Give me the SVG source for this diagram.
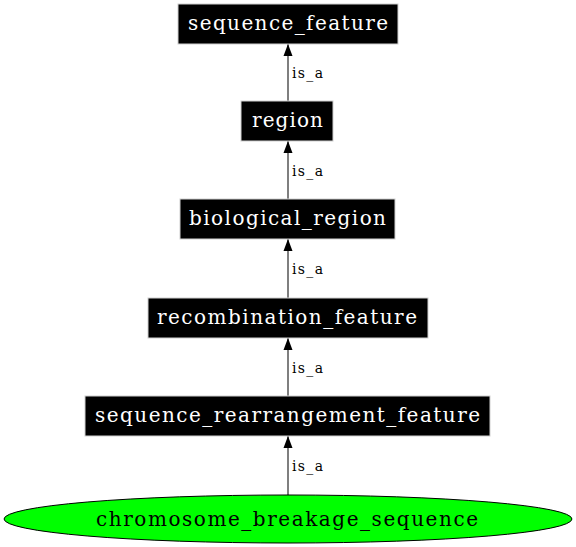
<svg xmlns="http://www.w3.org/2000/svg" width="576" height="547" viewBox="0 0 576 547">
<style>
.box{fill:#000;stroke:#d0d0d0;stroke-width:1}
.lbl{font-family:"DejaVu Serif",serif;font-size:20px;fill:#fff;text-anchor:middle}
.edge{stroke:#555;stroke-width:1.5;fill:none}
.el{font-family:"DejaVu Serif",serif;font-size:14px;fill:#000}
</style>
<defs>
<marker id="ah" markerWidth="12" markerHeight="10" viewBox="0 0 12 10" refX="12" refY="5" orient="auto" markerUnits="userSpaceOnUse">
<path d="M0,0.5 L12,5 L0,9.5 Z" fill="#000"/>
</marker>
</defs>
<rect width="576" height="547" fill="#fff"/>
<g id="connectors">
<line class="edge" x1="288" y1="101" x2="288" y2="44" marker-end="url(#ah)"/>
<text class="el" x="292" y="78" textLength="31" lengthAdjust="spacing">is_a</text>
<line class="edge" x1="288" y1="199" x2="288" y2="141" marker-end="url(#ah)"/>
<text class="el" x="292" y="176" textLength="31" lengthAdjust="spacing">is_a</text>
<line class="edge" x1="288" y1="298" x2="288" y2="239" marker-end="url(#ah)"/>
<text class="el" x="292" y="274" textLength="31" lengthAdjust="spacing">is_a</text>
<line class="edge" x1="288" y1="396" x2="288" y2="338" marker-end="url(#ah)"/>
<text class="el" x="292" y="373" textLength="31" lengthAdjust="spacing">is_a</text>
<line class="edge" x1="288" y1="495" x2="288" y2="436" marker-end="url(#ah)"/>
<text class="el" x="292" y="471" textLength="31" lengthAdjust="spacing">is_a</text>
</g>
<g id="sequence_feature">
<rect class="box" x="178" y="4" width="220" height="40"/>
<text class="lbl" x="288" y="30" textLength="200" lengthAdjust="spacing">sequence_feature</text>
</g>
<g id="region">
<rect class="box" x="241" y="101" width="92" height="40"/>
<text class="lbl" x="287.5" y="127" textLength="71" lengthAdjust="spacing">region</text>
</g>
<g id="biological_region">
<rect class="box" x="180" y="199" width="215" height="40"/>
<text class="lbl" x="287.5" y="225" textLength="197" lengthAdjust="spacing">biological_region</text>
</g>
<g id="recombination_feature">
<rect class="box" x="148" y="298" width="280" height="40"/>
<text class="lbl" x="287" y="324" textLength="260" lengthAdjust="spacing">recombination_feature</text>
</g>
<g id="sequence_rearrangement_feature">
<rect class="box" x="85" y="396" width="405" height="40"/>
<text class="lbl" x="287.5" y="422" textLength="385" lengthAdjust="spacing">sequence_rearrangement_feature</text>
</g>
<g id="chromosome_breakage_sequence">
<ellipse cx="288" cy="519" rx="284" ry="24" fill="#00ff00" stroke="#000" stroke-width="1"/>
<text x="287" y="526" font-family="DejaVu Serif, serif" font-size="20" text-anchor="middle" fill="#000" textLength="382" lengthAdjust="spacing">chromosome_breakage_sequence</text>
</g>
</svg>
